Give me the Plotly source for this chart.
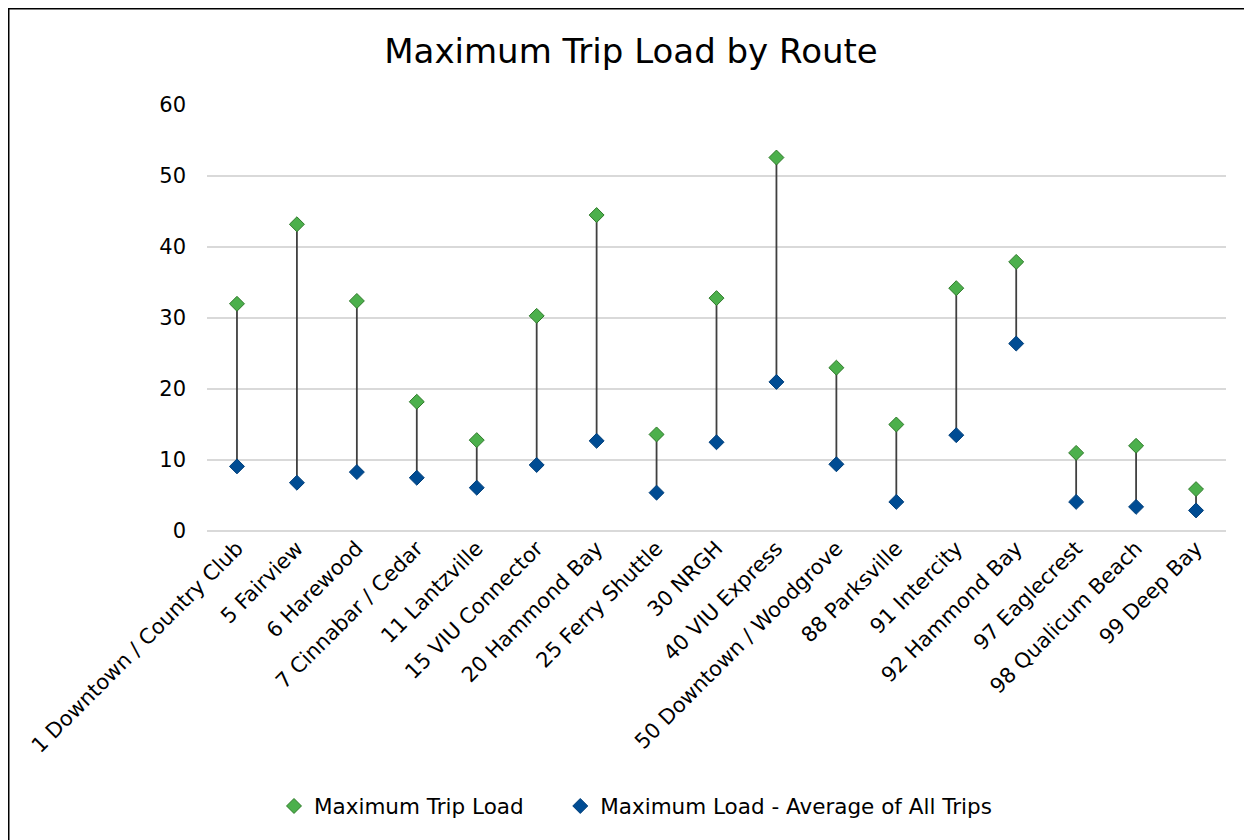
import plotly.graph_objects as go

routes = ["1 Downtown / Country Club", "5 Fairview", "6 Harewood", "7 Cinnabar / Cedar",
          "11 Lantzville", "15 VIU Connector", "20 Hammond Bay", "25 Ferry Shuttle",
          "30 NRGH", "40 VIU Express", "50 Downtown / Woodgrove", "88 Parksville",
          "91 Intercity", "92 Hammond Bay", "97 Eaglecrest", "98 Qualicum Beach", "99 Deep Bay"]
max_trip_load = [32.0, 43.2, 32.4, 18.2, 12.8, 30.3, 44.5, 13.6, 32.8, 52.6, 23.0, 15.0,
                 34.2, 37.9, 11.0, 12.0, 5.9]
avg_max_load = [9.1, 6.8, 8.3, 7.5, 6.1, 9.3, 12.7, 5.4, 12.5, 21.0, 9.4, 4.1,
                13.5, 26.4, 4.1, 3.4, 2.9]

FONT = "DejaVu Sans, Verdana, sans-serif"

# drop lines
lx, ly = [], []
for r, a, m in zip(routes, avg_max_load, max_trip_load):
    lx += [r, r, None]
    ly += [a, m, None]

fig = go.Figure()
fig.add_trace(go.Scatter(x=lx, y=ly, mode="lines", line=dict(color="#404040", width=1.8),
                         showlegend=False, hoverinfo="skip"))
fig.add_trace(go.Scatter(x=routes, y=max_trip_load, mode="markers",
                         name="Maximum Trip Load" + "\u00a0" * 4 + "\u2009",
                         marker=dict(symbol="diamond", size=11.5, color="#4CB04C",
                                     line=dict(color="#2F7A2A", width=1))))
fig.add_trace(go.Scatter(x=routes, y=avg_max_load, mode="markers",
                         name="Maximum Load - Average of All Trips",
                         marker=dict(symbol="diamond", size=11.5, color="#004C93",
                                     line=dict(color="#003F7A", width=1))))

# page has an 8px body margin; work in coordinates relative to the figure div
OFF = 8
W, H = 1252 - OFF, 840 - OFF
L, T = 207 - OFF, 105 - OFF
R = 26
B = H - (531 - OFF)
pw, ph = W - L - R, H - T - B

def px_x(p):
    return (p - L) / pw

def px_y(p):
    return (H - B - p) / ph

fig.update_layout(
    width=W, height=H,
    margin=dict(l=L, r=R, t=T, b=B, autoexpand=False),
    paper_bgcolor="white", plot_bgcolor="white",
    font=dict(family=FONT, size=21, color="black"),
    title=dict(text="Maximum Trip Load by Route", x=(631 - OFF) / W, xanchor="center",
               xref="container",
               y=1 - (51 - OFF) / H, yanchor="middle", font=dict(size=34, family=FONT, color="black")),
    showlegend=True,
    legend=dict(orientation="h", x=(274 - OFF) / W, xref="container", xanchor="left",
                y=1 - (806 - OFF) / H, yref="container", yanchor="middle",
                font=dict(size=21.5, family=FONT), itemwidth=30, tracegroupgap=0),
    xaxis=dict(type="category", range=[-0.5, len(routes) - 0.5], tickangle=-45,
               showgrid=False, showline=False, ticks="", tickfont=dict(size=21, family=FONT),
               fixedrange=True),
    yaxis=dict(range=[0, 60], dtick=10, showgrid=True, gridcolor="#D9D9D9", gridwidth=1.5,
               zeroline=True, zerolinecolor="#D9D9D9", zerolinewidth=1.5, showline=False,
               ticks="", ticklabelstandoff=20, tickfont=dict(size=21, family=FONT)),
    shapes=[dict(type="rect", xref="paper", yref="paper",
                 x0=px_x(0), x1=px_x(1300), y0=px_y(900), y1=px_y(0),
                 line=dict(color="black", width=3), fillcolor="rgba(0,0,0,0)", layer="below")],
)

fig.write_html("out.html")
